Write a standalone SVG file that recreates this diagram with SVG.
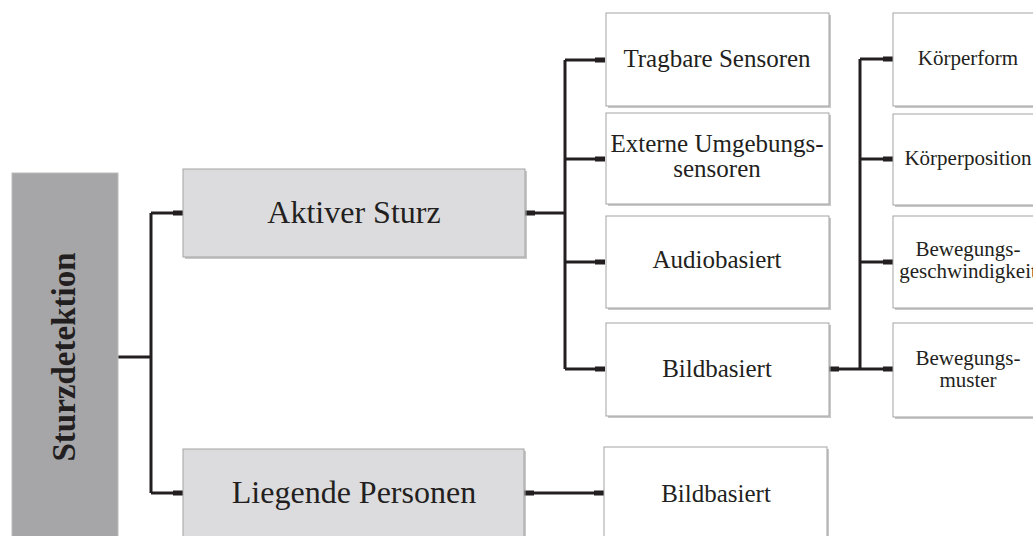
<svg xmlns="http://www.w3.org/2000/svg" width="1033" height="536" viewBox="0 0 1033 536">
<style>
.bg{fill:#ffffff}
.box{fill:#ffffff;stroke:#a3a3a3;stroke-width:1}
.gbox{fill:#dcdcde;stroke:#a3a3a3;stroke-width:1}
.dbox{fill:#a6a6a9;stroke:#bcbcbc;stroke-width:1}
.sh{fill:#9b9b9b;opacity:0.55}
.t{font-family:"Liberation Serif","Times New Roman",serif;fill:#231f20;text-anchor:middle}
.t1{font-size:32px}
.t2{font-size:25px}
.t3{font-size:21px}
.tb{font-size:33px;font-weight:bold}
.ln{fill:none;stroke:#231f20;stroke-width:3}
</style>
<defs>
<marker id="stub" markerUnits="userSpaceOnUse" markerWidth="12" markerHeight="8" refX="10" refY="4" orient="auto">
<rect x="0" y="1.5" width="10" height="5" fill="#231f20"/>
</marker>
<marker id="stubs" markerUnits="userSpaceOnUse" markerWidth="12" markerHeight="8" refX="0" refY="4" orient="auto">
<rect x="0" y="1.5" width="10" height="5" fill="#231f20"/>
</marker>
</defs>
<rect class="bg" x="0" y="0" width="1033" height="536"/>

<g id="connectors">
<path class="ln" d="M118,357 H151"/>
<path class="ln" d="M151,213 V493"/>
<path class="ln" d="M151,213 H183" marker-end="url(#stub)"/>
<path class="ln" d="M151,493 H183" marker-end="url(#stub)"/>
<path class="ln" d="M525,213 H565" marker-start="url(#stubs)"/>
<path class="ln" d="M565,60 V369"/>
<path class="ln" d="M565,60 H605" marker-end="url(#stub)"/>
<path class="ln" d="M565,159 H605" marker-end="url(#stub)"/>
<path class="ln" d="M565,262 H605" marker-end="url(#stub)"/>
<path class="ln" d="M565,369 H605" marker-end="url(#stub)"/>
<path class="ln" d="M829,369 H860" marker-start="url(#stubs)"/>
<path class="ln" d="M860,59 V369"/>
<path class="ln" d="M860,59 H893" marker-end="url(#stub)"/>
<path class="ln" d="M860,159 H893" marker-end="url(#stub)"/>
<path class="ln" d="M860,262 H893" marker-end="url(#stub)"/>
<path class="ln" d="M860,369 H893" marker-end="url(#stub)"/>
<path class="ln" d="M524,493 H604" marker-start="url(#stubs)" marker-end="url(#stub)"/>
</g>

<g id="sturzdetektion">
<rect class="dbox" x="12" y="173" width="106" height="370"/>
<text class="t tb" transform="translate(75,357) rotate(-90)">Sturzdetektion</text>
</g>

<g id="aktiver-sturz">
<rect class="sh" x="185" y="171" width="342" height="88"/>
<rect class="gbox" x="183" y="169" width="342" height="88"/>
<text class="t t1" x="354" y="223">Aktiver Sturz</text>
</g>

<g id="liegende-personen">
<rect class="sh" x="185" y="451" width="341" height="90"/>
<rect class="gbox" x="183" y="449" width="341" height="92"/>
<text class="t t1" x="354" y="503">Liegende Personen</text>
</g>

<g id="tragbare-sensoren">
<rect class="sh" x="608" y="15" width="223" height="93"/>
<rect class="box" x="606" y="13" width="223" height="93"/>
<text class="t t2" x="717" y="67">Tragbare Sensoren</text>
</g>

<g id="externe-umgebungssensoren">
<rect class="sh" x="608" y="115" width="223" height="91"/>
<rect class="box" x="606" y="113" width="223" height="91"/>
<text class="t t2" x="717" y="152">Externe Umgebungs-</text>
<text class="t t2" x="717" y="177">sensoren</text>
</g>

<g id="audiobasiert">
<rect class="sh" x="608" y="218" width="223" height="92"/>
<rect class="box" x="606" y="216" width="223" height="92"/>
<text class="t t2" x="717" y="268">Audiobasiert</text>
</g>

<g id="bildbasiert-aktiv">
<rect class="sh" x="608" y="325" width="223" height="93"/>
<rect class="box" x="606" y="323" width="223" height="93"/>
<text class="t t2" x="717" y="377">Bildbasiert</text>
</g>

<g id="bildbasiert-liegend">
<rect class="sh" x="606" y="449" width="223" height="92"/>
<rect class="box" x="604" y="447" width="223" height="94"/>
<text class="t t2" x="716" y="502">Bildbasiert</text>
</g>

<g id="koerperform">
<rect class="sh" x="895" y="15" width="150" height="93"/>
<rect class="box" x="893" y="13" width="150" height="93"/>
<text class="t t3" x="968" y="65">Körperform</text>
</g>

<g id="koerperposition">
<rect class="sh" x="895" y="116" width="150" height="91"/>
<rect class="box" x="893" y="114" width="150" height="91"/>
<text class="t t3" x="968" y="165">Körperposition</text>
</g>

<g id="bewegungsgeschwindigkeit">
<rect class="sh" x="895" y="218" width="150" height="92"/>
<rect class="box" x="893" y="216" width="150" height="92"/>
<text class="t t3" x="968" y="256">Bewegungs-</text>
<text class="t t3" x="968" y="278">geschwindigkeit</text>
</g>

<g id="bewegungsmuster">
<rect class="sh" x="895" y="325" width="150" height="94"/>
<rect class="box" x="893" y="323" width="150" height="94"/>
<text class="t t3" x="968" y="365">Bewegungs-</text>
<text class="t t3" x="968" y="387">muster</text>
</g>
</svg>
